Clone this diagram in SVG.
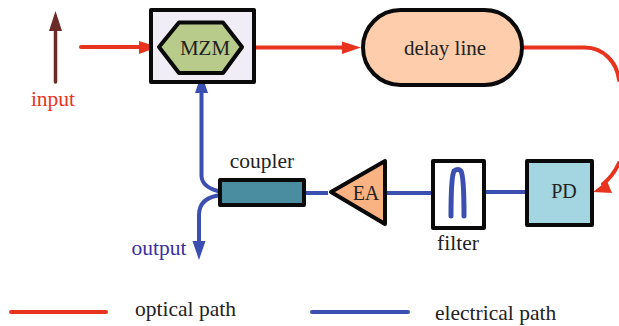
<svg xmlns="http://www.w3.org/2000/svg" width="619" height="326" viewBox="0 0 619 326">
<style>
text{font-family:"Liberation Serif","Times New Roman",serif;fill:#222}
.o{fill:none;stroke:#e8341f;stroke-width:4;stroke-linecap:round}
.e{fill:none;stroke:#3a4fb0;stroke-width:4}
.b{stroke:#0a0a0a;stroke-width:4;stroke-linejoin:round}
.ah{fill:#e8341f}
.eh{fill:#3a4fb0}
</style>
<rect width="619" height="326" fill="#fff"/>
<g id="connectors">
<path d="M55.500 82V28" fill="none" stroke="#6b2b26" stroke-width="3.500" stroke-linecap="round"/>
<polygon points="55.500,11 62,31 49,31" fill="#6b2b26"/>
<path class="o" d="M81 47H142"/>
<polygon class="ah" points="158,47 139,41 139,54"/>
<path class="o" d="M242 47.500H345"/>
<polygon class="ah" points="361,47.500 342,41.500 342,54"/>
<path class="o" d="M521 47.500H585C603 47.500 617 62 619 80"/>
<path class="o" d="M619 163Q613 176 603 184"/>
<polygon class="ah" points="593,192 607,181 612,193"/>
<path class="e" d="M201.500 90V176Q202 188 222 192"/>
<polygon class="eh" points="201.500,74 208,93 195,93"/>
<path class="e" d="M222 195Q199 197 199 215V245"/>
<polygon class="eh" points="199,260 192.500,241 205.500,241"/>
<path class="e" d="M303 193H328"/>
<path class="e" d="M386 193H432"/>
<path class="e" d="M484 192H527"/>
</g>
<g id="input"><text x="53" y="106" font-size="21.500" text-anchor="middle" style="fill:#e8341f">input</text></g>
<g id="mzm">
<rect class="b" x="151" y="10" width="103" height="72" fill="#f0edf6"/>
<polygon class="b" points="159,47 179,22.500 223,22.500 242,47 223,73 179,73" fill="#b9cb8a"/>
<text x="205" y="55" font-size="21" text-anchor="middle">MZM</text>
</g>
<g id="delay-line">
<rect class="b" x="363" y="10" width="159" height="75" rx="37.500" fill="#fdcdac"/>
<text x="445" y="55" font-size="21" text-anchor="middle">delay line</text>
</g>
<g id="coupler">
<rect class="b" x="220" y="180" width="84" height="25" fill="#4a8ca0"/>
<text x="262" y="168" font-size="21.500" text-anchor="middle">coupler</text>
</g>
<g id="ea">
<polygon class="b" points="331,192 385,161 385,224" fill="#f9b281"/>
<text x="366" y="200" font-size="20" text-anchor="middle">EA</text>
</g>
<g id="filter">
<rect class="b" x="433" y="161" width="51" height="67" fill="#fff"/>
<path d="M451 216C451 195 452 175 454 171Q458 168 461 171C463 175 464 195 464 216" fill="none" stroke="#3a4fb0" stroke-width="5" stroke-linecap="round"/>
<text x="458" y="250" font-size="21.500" text-anchor="middle">filter</text>
</g>
<g id="pd">
<rect class="b" x="527" y="161" width="65" height="64" fill="#a3d6e0"/>
<text x="564" y="198" font-size="20" text-anchor="middle">PD</text>
</g>
<g id="output"><text x="159" y="255" font-size="21.500" text-anchor="middle" style="fill:#3a2f9f">output</text></g>
<g id="legend">
<path d="M11 312H106" fill="none" stroke="#e8341f" stroke-width="4" stroke-linecap="round"/>
<text x="135" y="316" font-size="21.500">optical path</text>
<path d="M312 312H408" fill="none" stroke="#3a4fb0" stroke-width="4" stroke-linecap="round"/>
<text x="435" y="320" font-size="21.500">electrical path</text>
</g>
</svg>
